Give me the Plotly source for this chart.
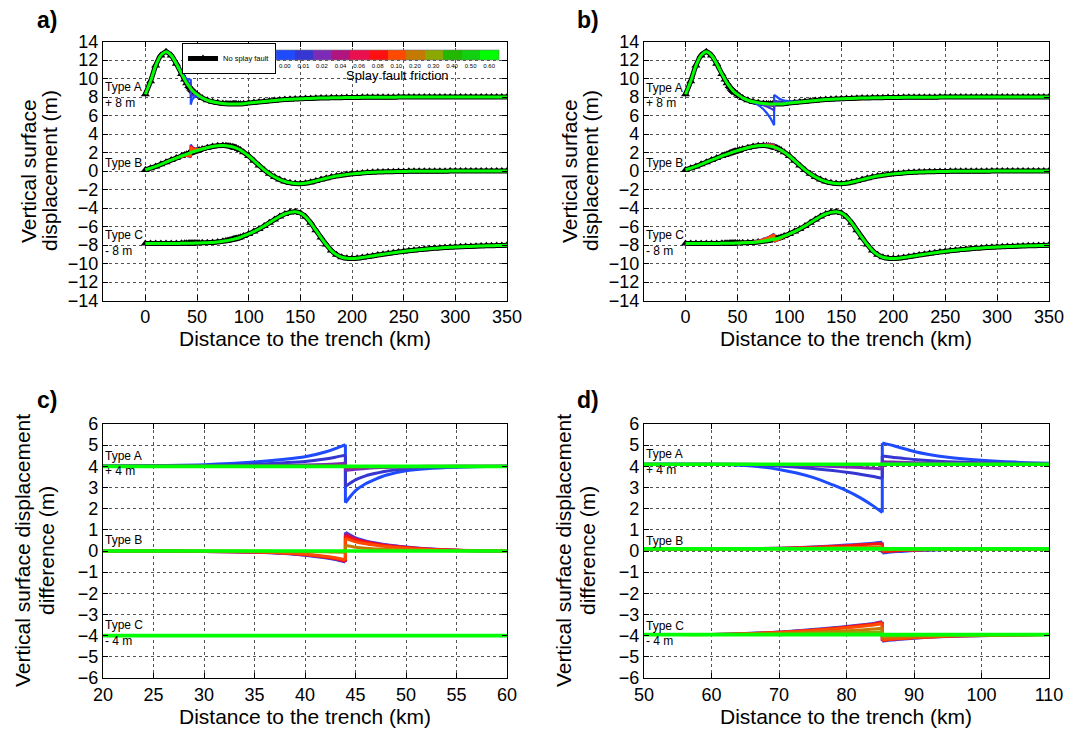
import plotly.graph_objects as go

FONT = "Liberation Sans, Arial, Helvetica, sans-serif"

# ---------------- data ----------------
friction_labels = ["0.00", "0.01", "0.02", "0.04", "0.06", "0.08", "0.10",
                   "0.20", "0.30", "0.40", "0.50", "0.60"]
friction_colors = ["#1f4bff", "#3636d2", "#7b2bb5", "#b0157f", "#ea1050", "#ff1010",
                   "#ff4a00", "#c47a00", "#8aa800", "#22b800", "#10d010", "#00ff00"]

# distance to trench (km) for full profiles (panels a, b)
x_main = [0, 5, 10, 15, 20, 25, 30, 35, 38, 40, 42, 43, 44, 45, 46, 47, 48, 50, 52, 55,
          60, 65, 70, 75, 78, 80, 82, 84, 85.3, 86, 87, 88, 90, 92, 95, 100, 105, 110,
          115, 120, 125, 130, 135, 140, 145, 150, 155, 160, 165, 170, 175, 180, 185, 190,
          195, 200, 205, 210, 215, 220, 225, 230, 235, 240, 245, 250, 255, 260, 265, 270,
          275, 280, 285, 290, 295, 300, 305, 310, 315, 320, 325, 330, 335, 340, 345, 350]

# vertical surface displacement without splay fault (m), before the display offset
typeA = [0.3, 1.7, 3.4, 4.5, 4.9, 4.5, 3.6, 2.5, 1.9, 1.5, 1.2, 1.05, 0.9, 0.77, 0.65,
         0.54, 0.45, 0.28, 0.12, -0.1, -0.35, -0.52, -0.62, -0.7, -0.73, -0.75, -0.76,
         -0.77, -0.77, -0.77, -0.77, -0.77, -0.76, -0.75, -0.72, -0.66, -0.6, -0.54,
         -0.48, -0.42, -0.37, -0.32, -0.28, -0.25, -0.22, -0.19, -0.17, -0.15, -0.13,
         -0.11, -0.1, -0.09, -0.08, -0.07, -0.06, -0.05, -0.05, -0.04, -0.04, -0.03,
         -0.03, -0.02, -0.02, -0.02, -0.01, -0.01, -0.01, 0.0, 0.0, 0.0, 0.0, 0.0, 0.0,
         0.0, 0.0, 0.0, 0.0, 0.0, 0.0, 0.0, 0.0, 0.0, 0.0, 0.0, 0.0, 0.0]
typeB = [0.12, 0.3, 0.5, 0.72, 0.95, 1.18, 1.4, 1.62, 1.74, 1.82, 1.9, 1.94, 1.98, 2.02,
         2.06, 2.1, 2.13, 2.2, 2.27, 2.37, 2.52, 2.64, 2.72, 2.75, 2.74, 2.71, 2.67, 2.62,
         2.58, 2.55, 2.52, 2.48, 2.38, 2.26, 2.04, 1.62, 1.12, 0.6, 0.12, -0.3, -0.65,
         -0.93, -1.14, -1.28, -1.36, -1.37, -1.32, -1.22, -1.08, -0.93, -0.79, -0.66,
         -0.55, -0.46, -0.38, -0.31, -0.26, -0.21, -0.17, -0.14, -0.12, -0.1, -0.08,
         -0.07, -0.06, -0.05, -0.04, -0.04, -0.03, -0.03, -0.03, -0.02, -0.02, -0.02,
         -0.01, -0.01, -0.01, -0.01, 0.0, 0.0, 0.0, 0.0, 0.0, 0.0, 0.0, 0.0]
typeC = [0.15, 0.15, 0.15, 0.16, 0.16, 0.17, 0.17, 0.18, 0.18, 0.19, 0.19, 0.19, 0.2,
         0.2, 0.2, 0.2, 0.21, 0.21, 0.22, 0.23, 0.25, 0.28, 0.33, 0.4, 0.45, 0.49, 0.54,
         0.59, 0.62, 0.64, 0.67, 0.7, 0.76, 0.84, 0.98, 1.2, 1.45, 1.73, 2.05, 2.4, 2.75,
         3.08, 3.35, 3.53, 3.6, 3.45, 3.05, 2.4, 1.6, 0.8, 0.05, -0.6, -1.05, -1.32,
         -1.44, -1.46, -1.42, -1.35, -1.27, -1.18, -1.09, -1.0, -0.92, -0.84, -0.76,
         -0.69, -0.62, -0.56, -0.5, -0.45, -0.4, -0.36, -0.32, -0.28, -0.25, -0.22,
         -0.19, -0.17, -0.15, -0.13, -0.11, -0.09, -0.08, -0.06, -0.05, -0.04]
offset_ab = [8, 0, -8]

# displacement difference, splay fault at 44 km (panel c)
xc = [20, 25, 30, 35, 38, 40, 42, 43, 44, 44, 45, 46, 47, 48, 50, 52, 55, 60]
cA_000 = [0.02, 0.04, 0.08, 0.2, 0.33, 0.45, 0.68, 0.84, 1.03, -1.72, -1.15, -0.82, -0.6, -0.42, -0.21, -0.11, -0.04, 0.0]
cA_001 = [0.01, 0.02, 0.04, 0.1, 0.17, 0.23, 0.35, 0.43, 0.53, -0.95, -0.64, -0.45, -0.33, -0.23, -0.12, -0.06, -0.02, 0.0]
cA_002 = [0.0, 0.01, 0.01, 0.03, 0.05, 0.06, 0.09, 0.11, 0.14, -0.2, -0.14, -0.1, -0.07, -0.05, -0.03, -0.01, 0.0, 0.0]
cA_004 = [0.0, 0.0, 0.0, 0.01, 0.02, 0.02, 0.03, 0.04, 0.05, -0.07, -0.05, -0.03, -0.02, -0.02, -0.01, 0.0, 0.0, 0.0]
cB_000 = [0.0, 0.0, -0.02, -0.06, -0.12, -0.2, -0.32, -0.4, -0.52, 0.88, 0.62, 0.48, 0.38, 0.3, 0.19, 0.11, 0.04, 0.0]
cB_004 = [0.0, 0.0, -0.02, -0.06, -0.11, -0.19, -0.3, -0.38, -0.5, 0.82, 0.58, 0.45, 0.36, 0.28, 0.18, 0.1, 0.04, 0.0]
cB_008 = [0.0, 0.0, -0.02, -0.05, -0.1, -0.17, -0.28, -0.36, -0.47, 0.72, 0.52, 0.41, 0.32, 0.25, 0.16, 0.09, 0.03, 0.0]
cB_010 = [0.0, 0.0, -0.01, -0.04, -0.09, -0.15, -0.25, -0.32, -0.42, 0.6, 0.44, 0.34, 0.27, 0.21, 0.13, 0.07, 0.03, 0.0]
cB_020 = [0.0, 0.0, 0.0, -0.01, -0.02, -0.03, -0.04, -0.05, -0.06, 0.26, 0.18, 0.13, 0.1, 0.08, 0.05, 0.03, 0.01, 0.0]
c_060 = [0.0, 0.0, 0.0, 0.0, 0.0, 0.0, 0.0, 0.0, 0.0, 0.0, 0.0, 0.0, 0.0, 0.0, 0.0, 0.0, 0.0, 0.0]
offset_c = [4, 0, -4]

# displacement difference, splay fault at 85.3 km (panel d)
xd = [50, 55, 60, 65, 70, 75, 78, 80, 82, 84, 85.3, 85.3, 86, 87, 88, 90, 92, 95, 100, 105, 110]
dA_000 = [0.0, 0.0, 0.0, -0.06, -0.25, -0.62, -0.98, -1.25, -1.58, -1.98, -2.28, 1.0, 0.95, 0.87, 0.78, 0.6, 0.47, 0.33, 0.19, 0.1, 0.05]
dA_001 = [0.0, 0.0, 0.0, -0.02, -0.08, -0.2, -0.3, -0.38, -0.47, -0.58, -0.67, 0.39, 0.36, 0.32, 0.29, 0.22, 0.17, 0.12, 0.07, 0.04, 0.02]
dA_002 = [0.0, 0.0, 0.0, 0.0, -0.02, -0.07, -0.11, -0.13, -0.16, -0.19, -0.22, 0.12, 0.11, 0.1, 0.09, 0.07, 0.05, 0.04, 0.02, 0.01, 0.0]
dB_000 = [0.0, 0.0, 0.0, 0.01, 0.03, 0.09, 0.14, 0.18, 0.22, 0.27, 0.31, -0.2, -0.17, -0.14, -0.12, -0.08, -0.06, -0.03, -0.01, 0.0, 0.0]
dB_008 = [0.0, 0.0, 0.0, 0.01, 0.03, 0.08, 0.12, 0.15, 0.19, 0.23, 0.26, -0.14, -0.12, -0.1, -0.08, -0.06, -0.04, -0.02, -0.01, 0.0, 0.0]
dB_020 = [0.0, 0.0, 0.0, 0.0, 0.01, 0.03, 0.05, 0.06, 0.07, 0.09, 0.1, -0.05, -0.04, -0.03, -0.03, -0.02, -0.01, -0.01, 0.0, 0.0, 0.0]
dC_000 = [0.0, 0.0, 0.01, 0.05, 0.12, 0.24, 0.32, 0.38, 0.45, 0.53, 0.61, -0.31, -0.28, -0.25, -0.22, -0.17, -0.13, -0.09, -0.05, -0.02, 0.0]
dC_008 = [0.0, 0.0, 0.01, 0.04, 0.11, 0.22, 0.3, 0.36, 0.43, 0.5, 0.58, -0.28, -0.25, -0.22, -0.2, -0.15, -0.12, -0.08, -0.04, -0.02, 0.0]
dC_010 = [0.0, 0.0, 0.01, 0.04, 0.1, 0.2, 0.27, 0.32, 0.38, 0.45, 0.52, -0.25, -0.22, -0.2, -0.18, -0.14, -0.11, -0.07, -0.04, -0.02, 0.0]
dC_020 = [0.0, 0.0, 0.0, 0.02, 0.05, 0.11, 0.15, 0.18, 0.22, 0.26, 0.3, -0.13, -0.12, -0.11, -0.1, -0.08, -0.06, -0.04, -0.02, -0.01, 0.0]
dC_030 = [0.0, 0.0, 0.0, 0.01, 0.02, 0.05, 0.07, 0.08, 0.1, 0.11, 0.13, -0.05, -0.05, -0.04, -0.04, -0.03, -0.02, -0.02, -0.01, 0.0, 0.0]
d_060 = [0.0, 0.0, 0.0, 0.0, 0.0, 0.0, 0.0, 0.0, 0.0, 0.0, 0.0, 0.0, 0.0, 0.0, 0.0, 0.0, 0.0, 0.0, 0.0, 0.0, 0.0]
offset_d = [4.1, 0.1, -3.95]

# friction index -> difference curve
c_curves = [
    {0: cA_000, 1: cA_001, 2: cA_002, 3: cA_004},
    {0: cB_000, 3: cB_004, 5: cB_008, 6: cB_010, 7: cB_020},
    {},
]
d_curves = [
    {0: dA_000, 1: dA_001, 2: dA_002},
    {0: dB_000, 5: dB_008, 7: dB_020},
    {0: dC_000, 5: dC_008, 6: dC_010, 7: dC_020, 8: dC_030},
]

# ---------------- figure ----------------
fig = go.Figure()
# the page body adds an 8 px margin: figure placed at (8, 8) in the 1081x729 window
OX, OY = 8, 8
W, H = 1081 - 2 * OX, 729 - OY


def px(x):
    return (x - OX) / W


def py(y):
    return 1 - (y - OY) / H


def add_jump(xs, ys, color, width, xa, ya):
    j = next(i for i in range(len(xs) - 1) if xs[i] == xs[i + 1])
    common = dict(mode="lines", xaxis=xa, yaxis=ya, showlegend=False, hoverinfo="skip")
    fig.add_trace(go.Scatter(x=xs[:j + 1], y=ys[:j + 1],
                             line=dict(color=color, width=width, shape="spline", smoothing=0.7), **common))
    fig.add_trace(go.Scatter(x=xs[j:j + 2], y=ys[j:j + 2],
                             line=dict(color=color, width=width), **common))
    fig.add_trace(go.Scatter(x=xs[j + 1:], y=ys[j + 1:],
                             line=dict(color=color, width=width, shape="spline", smoothing=0.7), **common))


index_of = {x: i for i, x in enumerate(x_main)}
bases = [typeA, typeB, typeC]

# panels a and b: full profiles
for panel, (xa, ya, xs_f, curves) in enumerate([("x", "y", xc, c_curves), ("x2", "y2", xd, d_curves)]):
    for t in range(3):
        off = offset_ab[t]
        fig.add_trace(go.Scatter(
            x=x_main, y=[v + off for v in bases[t]], mode="lines+markers",
            line=dict(color="black", width=5, shape="spline", smoothing=0.6),
            marker=dict(symbol="triangle-up", size=8, color="black"),
            name="No splay fault", legendgroup="ns",
            showlegend=(panel == 0 and t == 0), xaxis=xa, yaxis=ya, hoverinfo="skip"))
    for t in range(3):
        off = offset_ab[t]
        for k in sorted(curves[t]):
            diff = curves[t][k]
            ys = [bases[t][index_of[x]] + dv + off for x, dv in zip(xs_f, diff)]
            add_jump(xs_f, ys, friction_colors[k], 2.2, xa, ya)
        fig.add_trace(go.Scatter(
            x=x_main, y=[v + off for v in bases[t]], mode="lines",
            line=dict(color=friction_colors[11], width=3.0, shape="spline", smoothing=0.6),
            showlegend=False, xaxis=xa, yaxis=ya, hoverinfo="skip"))

# panels c and d: differences
for xa, ya, xs_f, curves, offs, zero in [("x3", "y3", xc, c_curves, offset_c, c_060),
                                          ("x4", "y4", xd, d_curves, offset_d, d_060)]:
    for t in range(3):
        for k in sorted(curves[t]):
            add_jump(xs_f, [dv + offs[t] for dv in curves[t][k]], friction_colors[k], 3.0, xa, ya)
        fig.add_trace(go.Scatter(
            x=xs_f, y=[dv + offs[t] for dv in zero], mode="lines",
            line=dict(color=friction_colors[11], width=3.6),
            showlegend=False, xaxis=xa, yaxis=ya, hoverinfo="skip"))

# colour bar for splay fault friction
cscale = []
n = len(friction_colors)
for i, c in enumerate(friction_colors):
    cscale.append([i / n, c])
    cscale.append([(i + 1) / n, c])
fig.add_trace(go.Scatter(
    x=[None] * n, y=[None] * n, mode="markers", xaxis="x", yaxis="y", showlegend=False,
    marker=dict(color=list(range(n)), cmin=0, cmax=n, colorscale=cscale, showscale=True,
                colorbar=dict(orientation="h", x=px(387), xanchor="center", y=py(50),
                              yanchor="top", len=223 / W, lenmode="fraction", thickness=9.5,
                              thicknessmode="pixels", xpad=0, ypad=0, outlinewidth=0.6,
                              outlinecolor="#777", ticks="",
                              tickvals=[i + 0.5 for i in range(n)], ticktext=friction_labels,
                              tickfont=dict(size=6, color="black", family=FONT)))))

axis_common = dict(showline=True, linecolor="black", linewidth=1.3, mirror="ticks",
                   ticks="inside", ticklen=5, tickwidth=1, tickcolor="black",
                   showgrid=True, gridcolor="#555", griddash="dot", gridwidth=1,
                   zeroline=False, ticklabeloverflow="allow",
                   tickfont=dict(size=18, color="black", family=FONT))

xdom_l = [px(103), px(507)]
xdom_r = [px(644), px(1049)]
ydom_t = [py(300.5), py(41.5)]
ydom_b = [py(678), py(424)]

ab_ticks = [0, 50, 100, 150, 200, 250, 300, 350]
ab_yticks = list(range(-14, 15, 2))
cd_yticks = list(range(-6, 7))

fig.update_layout(
    width=W, height=H, margin=dict(l=0, r=0, t=0, b=0, pad=0, autoexpand=False),
    paper_bgcolor="white", plot_bgcolor="white",
    font=dict(family=FONT, color="black"),
    xaxis=dict(domain=xdom_l, range=[-41, 350], tickvals=ab_ticks, anchor="y", ticklabelstandoff=0, **axis_common),
    yaxis=dict(domain=ydom_t, range=[-14, 14], tickvals=ab_yticks, anchor="x", ticklabelstandoff=0, **axis_common),
    xaxis2=dict(domain=xdom_r, range=[-40, 350], tickvals=ab_ticks, anchor="y2", ticklabelstandoff=0, **axis_common),
    yaxis2=dict(domain=ydom_t, range=[-14, 14], tickvals=ab_yticks, anchor="x2", ticklabelstandoff=0, **axis_common),
    xaxis3=dict(domain=xdom_l, range=[20, 60], tickvals=list(range(20, 61, 5)), anchor="y3", ticklabelstandoff=0, **axis_common),
    yaxis3=dict(domain=ydom_b, range=[-6, 6], tickvals=cd_yticks, anchor="x3", ticklabelstandoff=0, **axis_common),
    xaxis4=dict(domain=xdom_r, range=[50, 110], tickvals=list(range(50, 111, 10)), anchor="y4", ticklabelstandoff=0, **axis_common),
    yaxis4=dict(domain=ydom_b, range=[-6, 6], tickvals=cd_yticks, anchor="x4", ticklabelstandoff=0, **axis_common),
    legend=dict(x=px(182), y=py(43), xanchor="left", yanchor="top", bgcolor="white",
                bordercolor="black", borderwidth=1, font=dict(size=7.5, color="black", family=FONT),
                itemwidth=30, tracegroupgap=0, itemclick=False),
)

ann = []


def pann(text, x, y, size, angle=0, bold=False):
    ann.append(dict(text=("<b>%s</b>" % text) if bold else text, x=px(x), y=py(y),
                    xref="paper", yref="paper", xanchor="center", yanchor="middle",
                    textangle=angle, showarrow=False,
                    font=dict(size=size, color="black", family=FONT)))


# panel letters
for txt, x, y in [("a)", 47, 20), ("b)", 588, 20), ("c)", 47, 400), ("d)", 588, 400)]:
    pann(txt, x, y, 23, bold=True)
# axis titles
for x, y in [(305, 338), (846, 338), (305, 716), (846, 716)]:
    pann("Distance to the trench (km)", x, y, 21)
for x, y, txt in [(28, 171, "Vertical surface"), (49, 171, "displacement (m)"),
                  (569, 171, "Vertical surface"), (590, 171, "displacement (m)"),
                  (22, 551, "Vertical surface displacement"), (46, 551, "difference (m)"),
                  (563, 551, "Vertical surface displacement"), (587, 551, "difference (m)")]:
    pann(txt, x, y, 21, angle=-90)
# colour bar title
pann("Splay fault friction", 397, 76, 13)

# type labels
lab_font = dict(size=12, color="black", family=FONT)
for xr, yr, x0, items in [
    ("x", "y", -41, [("Type A", 9.1), ("+ 8 m", 7.3), ("Type B", 0.9), ("Type C", -6.9), ("- 8 m", -8.6)]),
    ("x2", "y2", -40, [("Type A", 8.95), ("+ 8 m", 7.3), ("Type B", 0.9), ("Type C", -6.95), ("- 8 m", -8.6)]),
    ("x3", "y3", 20, [("Type A", 4.5), ("+ 4 m", 3.8), ("Type B", 0.52), ("Type C", -3.5), ("- 4 m", -4.25)]),
    ("x4", "y4", 50, [("Type A", 4.57), ("+ 4 m", 3.83), ("Type B", 0.49), ("Type C", -3.54), ("- 4 m", -4.24)]),
]:
    for txt, yv in items:
        ann.append(dict(text=txt, x=x0, y=yv, xref=xr, yref=yr, xanchor="left", yanchor="middle",
                        xshift=0, showarrow=False, font=lab_font))
fig.update_layout(annotations=ann)

fig.write_html("out.html")
